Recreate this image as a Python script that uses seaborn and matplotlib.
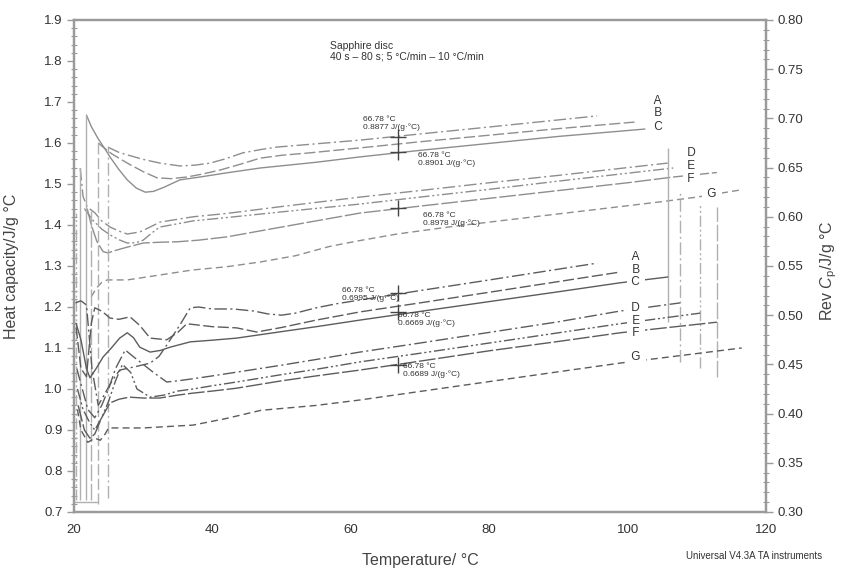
import matplotlib
matplotlib.use("Agg")
import matplotlib.pyplot as plt
from matplotlib.ticker import MultipleLocator, FormatStrFormatter
import pandas as pd
import seaborn as sns

# ---------------- data ----------------
# Heat capacity traces, left axis (J/g °C)
hcA_T = [24.9, 25.5, 26.5, 27.7, 30.0, 32.4, 35.3, 37.5, 39.7, 42.0, 44.4, 47.0, 49.3, 55.0, 61.3, 70.0, 80.0, 95.6]
hcA = [1.590, 1.585, 1.577, 1.571, 1.560, 1.551, 1.544, 1.546, 1.551, 1.562, 1.576, 1.584, 1.590, 1.598, 1.607, 1.622, 1.639, 1.666]
hcB_T = [23.5, 24.2, 25.5, 27.7, 30.0, 32.0, 34.0, 36.3, 38.5, 41.1, 44.0, 46.9, 50.0, 54.1, 61.3, 70.0, 80.0, 90.0, 101.0]
hcB = [1.600, 1.590, 1.573, 1.551, 1.530, 1.515, 1.513, 1.517, 1.524, 1.534, 1.548, 1.563, 1.570, 1.576, 1.588, 1.603, 1.619, 1.635, 1.651]
hcC_T = [21.8, 22.5, 23.5, 24.5, 25.2, 26.5, 27.7, 29.0, 30.3, 31.5, 33.0, 35.3, 38.2, 42.0, 46.9, 55.0, 61.3, 70.0, 80.0, 90.0, 102.5]
hcC = [1.668, 1.640, 1.610, 1.585, 1.566, 1.535, 1.510, 1.490, 1.480, 1.482, 1.492, 1.510, 1.517, 1.527, 1.539, 1.553, 1.566, 1.582, 1.599, 1.616, 1.634]
hcD_T = [20.9, 21.3, 21.9, 23.0, 24.0, 25.2, 26.5, 27.7, 29.5, 31.0, 32.4, 35.0, 37.2, 42.0, 50.0, 61.3, 70.0, 80.0, 90.0, 105.8]
hcD = [1.539, 1.470, 1.444, 1.430, 1.410, 1.395, 1.385, 1.378, 1.383, 1.395, 1.407, 1.414, 1.420, 1.428, 1.445, 1.468, 1.484, 1.503, 1.521, 1.551]
hcE_T = [21.5, 22.7, 24.0, 25.2, 26.5, 27.7, 29.0, 30.0, 31.2, 32.4, 35.0, 37.2, 42.0, 50.0, 61.3, 70.0, 80.0, 90.0, 106.6]
hcE = [1.440, 1.412, 1.390, 1.376, 1.364, 1.356, 1.357, 1.363, 1.380, 1.395, 1.403, 1.410, 1.418, 1.432, 1.451, 1.468, 1.487, 1.507, 1.539]
hcF_T = [21.9, 22.5, 23.3, 24.2, 24.9, 26.0, 27.7, 30.0, 32.5, 34.9, 38.0, 42.1, 50.0, 61.3, 70.0, 80.0, 90.0, 100.0, 106.6, 112.9]
hcF = [1.440, 1.400, 1.360, 1.335, 1.332, 1.338, 1.346, 1.356, 1.358, 1.359, 1.363, 1.371, 1.395, 1.429, 1.446, 1.465, 1.484, 1.503, 1.517, 1.528]
hcG_T = [22.5, 23.2, 24.0, 24.8, 27.7, 32.4, 37.0, 42.0, 47.0, 52.0, 57.0, 61.3, 66.7, 75.0, 85.0, 95.0, 105.0, 110.0, 116.5]
hcG = [1.225, 1.245, 1.260, 1.266, 1.266, 1.278, 1.290, 1.298, 1.310, 1.325, 1.348, 1.362, 1.378, 1.397, 1.417, 1.437, 1.457, 1.468, 1.486]

# Reversing heat capacity traces, right axis (Rev Cp, J/g °C)
rcA_T = [20.2, 21.0, 21.8, 22.6, 23.5, 24.5, 25.5, 26.6, 29.0, 31.0, 32.3, 33.4, 35.3, 36.8, 38.0, 40.0, 43.0, 46.0, 48.0, 50.0, 52.0, 55.0, 58.0, 61.3, 70.0, 80.0, 95.6]
rcA = [0.5125, 0.5146, 0.5104, 0.4458, 0.4083, 0.4208, 0.4333, 0.4442, 0.4479, 0.4513, 0.4583, 0.4696, 0.4900, 0.5075, 0.5083, 0.5063, 0.5063, 0.5042, 0.5013, 0.5000, 0.5021, 0.5075, 0.5117, 0.5154, 0.5250, 0.5358, 0.5529]
rcB_T = [20.3, 21.0, 21.8, 22.5, 23.0, 24.0, 25.2, 26.5, 28.1, 29.5, 31.0, 33.4, 35.0, 36.3, 40.0, 43.5, 46.4, 50.0, 55.0, 61.3, 70.0, 80.0, 98.9]
rcB = [0.4875, 0.4458, 0.4375, 0.4917, 0.5075, 0.5042, 0.4971, 0.4958, 0.4983, 0.4896, 0.4767, 0.4750, 0.4825, 0.4913, 0.4883, 0.4871, 0.4829, 0.4875, 0.4950, 0.5033, 0.5125, 0.5233, 0.5438]
rcC_T = [20.3, 21.0, 21.8, 22.3, 23.2, 24.2, 25.4, 26.6, 27.7, 28.6, 29.5, 31.0, 32.5, 33.9, 36.8, 40.0, 43.5, 50.0, 55.0, 61.3, 70.0, 80.0, 90.0, 98.9, 105.8]
rcC = [0.4917, 0.4750, 0.4458, 0.4363, 0.4458, 0.4575, 0.4667, 0.4767, 0.4821, 0.4771, 0.4675, 0.4625, 0.4642, 0.4675, 0.4729, 0.4746, 0.4767, 0.4833, 0.4883, 0.4950, 0.5038, 0.5138, 0.5238, 0.5329, 0.5388]
rcD_T = [20.4, 21.2, 22.0, 23.0, 24.0, 25.0, 26.0, 27.4, 28.5, 30.0, 31.5, 33.4, 35.0, 37.2, 40.0, 43.5, 50.0, 55.0, 61.3, 70.0, 80.0, 90.0, 98.9, 107.6]
rcD = [0.4458, 0.4250, 0.4042, 0.3958, 0.4083, 0.4250, 0.4458, 0.4646, 0.4583, 0.4500, 0.4417, 0.4321, 0.4333, 0.4354, 0.4383, 0.4421, 0.4492, 0.4550, 0.4625, 0.4717, 0.4825, 0.4933, 0.5042, 0.5125]
rcE_T = [20.5, 21.3, 22.2, 23.0, 24.0, 25.0, 26.0, 27.0, 28.2, 29.1, 31.0, 33.0, 35.0, 37.2, 40.0, 43.5, 50.0, 55.0, 61.3, 70.0, 80.0, 90.0, 98.9, 110.5]
rcE = [0.4250, 0.4042, 0.3917, 0.3833, 0.3958, 0.4125, 0.4333, 0.4500, 0.4417, 0.4250, 0.4167, 0.4188, 0.4229, 0.4250, 0.4283, 0.4321, 0.4396, 0.4450, 0.4525, 0.4613, 0.4717, 0.4821, 0.4913, 0.5021]
rcF_T = [20.6, 21.5, 22.3, 23.0, 24.0, 25.2, 26.5, 28.0, 30.0, 32.4, 35.0, 37.2, 40.0, 43.5, 50.0, 55.0, 61.3, 70.0, 80.0, 90.0, 98.9, 112.9]
rcF = [0.4083, 0.3833, 0.3750, 0.3792, 0.3958, 0.4108, 0.4146, 0.4167, 0.4158, 0.4158, 0.4188, 0.4208, 0.4229, 0.4258, 0.4333, 0.4383, 0.4442, 0.4533, 0.4638, 0.4733, 0.4821, 0.4929]
rcG_T = [20.5, 21.0, 22.0, 23.0, 23.8, 24.5, 25.0, 30.0, 37.2, 42.0, 47.0, 55.0, 61.3, 70.0, 80.0, 90.0, 98.9, 116.5]
rcG = [0.4042, 0.3833, 0.3708, 0.3750, 0.3729, 0.3792, 0.3854, 0.3854, 0.3883, 0.3950, 0.4033, 0.4083, 0.4138, 0.4225, 0.4325, 0.4425, 0.4513, 0.4667]

# Step lines at start and end of the runs (left axis units)
start_T = [20.3, 20.9, 21.7, 22.5, 23.5, 24.9]
start_lo = [0.73, 0.73, 0.73, 0.73, 0.72, 0.735]
start_hi = [1.43, 1.539, 1.668, 1.44, 1.60, 1.59]
start_trace = ["E", "C", "C", "F", "B", "A"]
end_T = [105.8, 107.6, 110.5, 112.9]
end_lo = [1.163, 1.065, 1.051, 1.029]
end_hi = [1.588, 1.478, 1.449, 1.444]
end_trace = ["C", "D", "E", "F"]
base_T = [20.0, 23.5]
base_level = 0.724

# Cursor readings at 66.78 °C
cursor_T = 66.78
hc_cursor = [1.615, 1.578, 1.441]
rc_cursor = [0.5225, 0.5033, 0.4496]
hc_notes = [(61.8, 1.666, "66.78 °C\n0.8877 J/(g·°C)"),
            (69.7, 1.578, "66.78 °C\n0.8901 J/(g·°C)"),
            (70.4, 1.432, "66.78 °C\n0.8978 J/(g·°C)")]
rc_notes = [(58.7, 0.5288, "66.78 °C\n0.6995 J/(g·°C)"),
            (66.8, 0.5033, "66.78 °C\n0.6669 J/(g·°C)"),
            (67.5, 0.4513, "66.78 °C\n0.6689 J/(g·°C)")]

hc_letters = [("A", 104.4, 1.702), ("B", 104.4, 1.673), ("C", 104.4, 1.640),
              ("D", 109.2, 1.576), ("E", 109.2, 1.544), ("F", 109.2, 1.512),
              ("G", 112.2, 1.476)]
rc_letters = [("A", 101.2, 0.5592), ("B", 101.2, 0.5458), ("C", 101.2, 0.5338),
              ("D", 101.2, 0.5075), ("E", 101.2, 0.4942), ("F", 101.2, 0.4821),
              ("G", 101.2, 0.4575)]

x_ticks = [20, 40, 60, 80, 100, 120]

# ---------------- styling ----------------
DASH = {"A": (9, 2.5, 1.5, 2.5), "B": (8, 2.5), "C": "", "D": (9, 2.5, 1.5, 2.5),
        "E": (8, 2, 1.5, 2, 1.5, 2), "F": (12, 2), "G": (5, 3)}
HC_COLOR = "#8e8e8e"
RC_COLOR = "#5c5c5c"
STEP_COLOR = "#b0b0b0"
SPINE = "#9a9a9a"
TXT = "#333333"

sns.set_theme(style="white")
plt.rcParams["font.family"] = ["Liberation Sans", "DejaVu Sans"]
plt.rcParams["mathtext.fontset"] = "custom"
plt.rcParams["mathtext.rm"] = "Liberation Sans"
plt.rcParams["mathtext.it"] = "Liberation Sans:italic"


def long_form(traces):
    parts = [pd.DataFrame({"trace": k, "T": t, "val": v}) for k, (t, v) in traces.items()]
    return pd.concat(parts, ignore_index=True)


hc_df = long_form({"A": (hcA_T, hcA), "B": (hcB_T, hcB), "C": (hcC_T, hcC),
                   "D": (hcD_T, hcD), "E": (hcE_T, hcE), "F": (hcF_T, hcF),
                   "G": (hcG_T, hcG)})
rc_df = long_form({"A": (rcA_T, rcA), "B": (rcB_T, rcB), "C": (rcC_T, rcC),
                   "D": (rcD_T, rcD), "E": (rcE_T, rcE), "F": (rcF_T, rcF),
                   "G": (rcG_T, rcG)})

fig = plt.figure(figsize=(8.41, 5.73), dpi=100)
fig.subplots_adjust(left=0.088, right=0.9108, top=0.9651, bottom=0.1065)
ax = fig.add_subplot(111)
ax2 = ax.twinx()

traces = list(DASH.keys())
sns.lineplot(data=hc_df, x="T", y="val", hue="trace", style="trace",
             hue_order=traces, style_order=traces,
             palette={k: HC_COLOR for k in traces}, dashes=DASH,
             estimator=None, sort=False, legend=False, linewidth=1.0, ax=ax)
sns.lineplot(data=rc_df, x="T", y="val", hue="trace", style="trace",
             hue_order=traces, style_order=traces,
             palette={k: RC_COLOR for k in traces}, dashes=DASH,
             estimator=None, sort=False, legend=False, linewidth=1.0, ax=ax2)


def dash_style(key):
    d = DASH[key]
    return "solid" if d == "" else (0, d)


for t, lo, hi, k in zip(start_T + end_T, start_lo + end_lo, start_hi + end_hi,
                        start_trace + end_trace):
    ax.vlines(t, lo, hi, colors=STEP_COLOR, linestyles=[dash_style(k)], linewidth=1.0)
ax.hlines(base_level, base_T[0], base_T[1], colors=STEP_COLOR, linewidth=1.0)

# cursor crosses
ax.plot([cursor_T] * len(hc_cursor), hc_cursor, ls="none", marker="+", ms=12,
        mew=1.0, color="#444444")
ax2.plot([cursor_T] * len(rc_cursor), rc_cursor, ls="none", marker="+", ms=12,
         mew=1.0, color="#444444")

for t, v, s in hc_notes:
    ax.text(t, v, s, fontsize=6, color=TXT, va="top", ha="left", linespacing=1.0)
for t, v, s in rc_notes:
    ax2.text(t, v, s, fontsize=6, color=TXT, va="top", ha="left", linespacing=1.0)

box = dict(boxstyle="square,pad=0.15", fc="white", ec="none")
for s, t, v in hc_letters:
    ax.text(t, v, f" {s} ", fontsize=8.5, color=TXT, ha="center", va="center", bbox=box)
for s, t, v in rc_letters:
    ax2.text(t, v, f" {s} ", fontsize=8.5, color=TXT, ha="center", va="center", bbox=box)

ax.text(0.37, 0.957, "Sapphire disc\n40 s – 80 s; 5 °C/min – 10 °C/min",
        transform=ax.transAxes, fontsize=7.5, color=TXT, va="top", ha="left",
        linespacing=1.05)
fig.text(0.977, 0.021, "Universal V4.3A TA instruments", fontsize=7, color=TXT,
         ha="right", va="bottom")

# ---------------- axes ----------------
ax.set_xlim(20, 120)
ax.set_ylim(0.7, 1.9)
ax2.set_ylim(0.3, 0.8)
ax.set_xticks(x_ticks)
ax.xaxis.set_minor_locator(MultipleLocator(5))
ax.yaxis.set_major_locator(MultipleLocator(0.1))
ax.yaxis.set_minor_locator(MultipleLocator(0.02))
ax.yaxis.set_major_formatter(FormatStrFormatter("%.1f"))
ax2.yaxis.set_major_locator(MultipleLocator(0.05))
ax2.yaxis.set_minor_locator(MultipleLocator(0.01))
ax2.yaxis.set_major_formatter(FormatStrFormatter("%.2f"))

for a in (ax, ax2):
    for sp in a.spines.values():
        sp.set_color(SPINE)
        sp.set_linewidth(1.6)
    a.tick_params(which="major", direction="out", length=5, width=1.0,
                  color=SPINE, labelsize=9.5, labelcolor=TXT, pad=3)
    a.tick_params(which="minor", direction="inout", length=4, width=0.8, color=SPINE)
ax.tick_params(axis="x", which="both", direction="out", length=4, top=False)
ax.tick_params(axis="x", which="major", pad=5)
ax.tick_params(axis="y", which="both", left=True, right=False)
ax2.tick_params(axis="y", which="both", left=False, right=True)

ax.set_xlabel("Temperature/ °C", fontsize=11.5, color="#444444", labelpad=12)
ax.set_ylabel("Heat capacity/J/g °C", fontsize=11.5, color="#444444")
ax.yaxis.set_label_coords(-0.079, 0.5)
ax2.set_ylabel(r"Rev $\mathit{C}_\mathrm{p}$/J/g °C", fontsize=11.5, color="#444444",
               rotation=90)
ax2.yaxis.set_label_coords(1.076, 0.49)

fig.savefig("out.png", dpi=100)
